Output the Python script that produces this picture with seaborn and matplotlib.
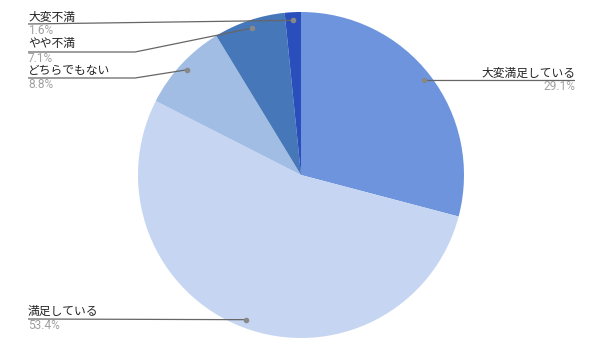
import numpy as np
import matplotlib
matplotlib.use("Agg")
import matplotlib.pyplot as plt
import seaborn as sns

sns.set_theme(style="white")
plt.rcParams['font.family'] = ['Noto Sans CJK JP', 'DejaVu Sans']

categories = ["大変満足している", "満足している", "どちらでもない", "やや不満", "大変不満"]
values = [29.1, 53.4, 8.8, 7.1, 1.6]
pct_labels = ["29.1%", "53.4%", "8.8%", "7.1%", "1.6%"]
colors = ["#6d94dd", "#c6d6f2", "#a1bde3", "#4677b9", "#2a4fbd"]

W, H = 600, 342
fig = plt.figure(figsize=(6, 3.42), dpi=100)
ax = fig.add_axes([0, 0, 1, 1])

cx, cy, R = 301, H - 175, 163
wedges, _ = ax.pie(values, colors=colors, startangle=90, counterclock=False,
                   center=(cx, cy), radius=R, frame=True,
                   wedgeprops=dict(linewidth=0))
ax.set_xlim(0, W)
ax.set_ylim(0, H)
ax.axis("off")

# label layout: text x, text centre y (px from top), alignment, underline y, elbow x
layout = {
    "大変満足している": dict(tx=575, ty=73, ha="right", ly=80.5, ex=None, lx=575),
    "満足している": dict(tx=28, ty=311.5, ha="left", ly=319, ex=None, lx=28),
    "どちらでもない": dict(tx=28, ty=70.5, ha="left", ly=78, ex=135, lx=28),
    "やや不満": dict(tx=28, ty=44, ha="left", ly=52, ex=135, lx=28),
    "大変不満": dict(tx=28, ty=17, ha="left", ly=24, ex=None, lx=28),
}

for w, cat, pct in zip(wedges, categories, pct_labels):
    mid = np.deg2rad((w.theta1 + w.theta2) / 2)
    dx = cx + 0.95 * R * np.cos(mid)
    dy = cy + 0.95 * R * np.sin(mid)
    L = layout[cat]
    ly = H - L["ly"]
    if L["ex"] is not None:
        xs = [L["lx"], L["ex"], dx]
        ys = [ly, ly, dy]
    else:
        xs = [L["lx"], dx]
        ys = [ly, dy]
    ax.plot(xs, ys, color="#666666", lw=0.9, solid_capstyle="butt", zorder=3)
    ax.plot([dx], [dy], "o", color="#888888", ms=3, zorder=4)
    ax.text(L["tx"], H - L["ty"], cat, ha=L["ha"], va="center", fontsize=8.5,
            color="#222222")
    ax.text(L["tx"], H - L["ty"] - 14, pct, ha=L["ha"], va="center", fontsize=8.6,
            color="#a0a0a0", family=["Roboto", "DejaVu Sans"])

fig.savefig("out.png", dpi=100, facecolor="white")
